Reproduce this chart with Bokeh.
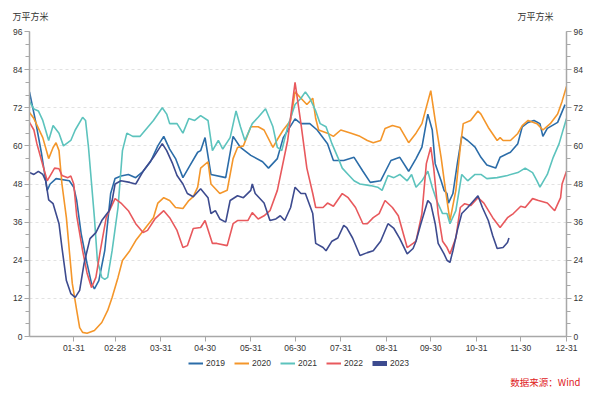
from bokeh.plotting import figure
from bokeh.layouts import column
from bokeh.models import (Range1d, LinearAxis, FixedTicker, SingleIntervalTicker,
                          Legend, LegendItem, Label)
from bokeh.embed import file_html
from bokeh.resources import INLINE

# ---- data (day of year, value in 万平方米) ----
tick_days = [31, 59, 90, 120, 151, 181, 212, 243, 273, 304, 334, 365]
tick_labels = ["01-31", "02-28", "03-31", "04-30", "05-31", "06-30",
               "07-31", "08-31", "09-30", "10-31", "11-30", "12-31"]

years = ["2019", "2020", "2021", "2022", "2023"]

days_2019 = [1,5,9,13,15,19,28,31,33,36,40,43,45,48,52,56,59,63,68,73,78,83,88,92,96,100,105,110,115,117,120,124,134,139,144,151,159,163,169,173,181,185,191,196,203,207,214,221,227,232,239,246,252,258,263,267,271,274,276,280,282,284,285,288,291,294,298,303,307,311,317,320,327,332,335,339,343,347,349,352,359,364]
vals_2019 = [77,68,58,46,48,49.7,49,47,42.8,32.4,23,16.7,15,17.6,27,45,49.7,50.5,51,50,52,55,60,63,59,56,50,54,58,58.5,62.6,51,50,63,59.5,57,55,53,56,62.6,68.5,67,67,65,60.7,55.4,55.4,56.4,52,48.5,49,55.4,56.4,52,56,59.6,70,65,54.4,49,46,45,42,45,54.4,63,61.7,59.6,56.4,54,53,56.4,58,60.7,66,67.4,68,67,63,65.5,67.4,73]

days_2020 = [1,4,10,14,17,19,21,23,26,28,30,33,35,37,40,45,50,54,57,61,64,69,73,81,85,88,92,96,100,105,109,112,115,117,122,124,127,130,135,139,142,146,151,156,160,166,169,173,178,181,185,189,193,195,197,203,207,212,219,225,230,234,239,242,247,252,258,263,267,273,276,280,283,286,290,293,295,300,305,307,312,318,320,322,327,332,335,339,345,349,354,359,362,365]
vals_2020 = [70.5,68.6,62.6,56,59.5,61,58.5,48,37.4,27,16.7,8.2,2.8,1.3,1,1.9,4.4,8.2,12.3,18.6,23.9,27,30.2,35,37.4,42,43.7,42.8,40.6,40.3,42.8,44,47,53,55,48,46.5,45,46,56,59.5,60,66,66,65,59.5,62,65,68,77,75,73,75,68.6,65,64,63,65,64,63,61.7,61,61.7,65.5,66.4,65.8,61,64,67,77.4,68,56.4,46,36.5,46,59.5,67,68,71,70,65.8,61.7,62.6,61.7,61.7,63.9,66.4,68,67,65,67,70,74,78.7]

days_2021 = [1,4,7,10,14,17,21,24,29,32,37,39,41,45,47,50,52,54,57,61,64,67,71,76,81,85,91,94,96,101,105,109,113,117,122,125,129,132,137,141,144,147,152,156,161,166,169,172,176,181,185,188,191,195,198,202,206,210,213,217,221,225,232,237,240,244,248,252,257,260,263,267,271,274,277,281,284,286,290,294,298,303,307,311,318,325,332,337,342,345,347,352,356,360,363,365]
vals_2021 = [74,71.6,71,68,61.7,66.4,64,60,61.7,65,69,68,59.5,37.4,24,18.6,18,18.6,27,40.6,58.5,64,63,63,65.8,68,72,70,67,67,64,68.6,68,69.5,68,58.5,61.7,59,62.6,71,66,61.7,67,69,71.7,66,59.5,58.5,66,73,75,77,75,71,67,66,60.7,56.4,53,51,49,48,47.5,47,46,50.7,50,51,49,51,47,49,52,47,42.8,38.7,38.7,35.5,39.6,51,49,51,51,49.7,50,50.7,51.6,53,51.6,49,47,51,56.4,60.7,65.5,68.6]

days_2022 = [1,4,6,10,13,18,21,23,27,29,31,33,37,40,43,46,49,53,59,63,68,73,78,81,86,92,96,101,105,108,112,117,120,125,128,135,139,142,149,152,156,160,164,169,176,181,185,189,193,195,200,203,207,213,217,222,227,230,234,238,242,247,251,257,261,263,267,270,273,275,278,281,284,286,290,293,296,300,305,309,315,320,325,329,334,337,342,346,352,357,361,362,365]
vals_2022 = [67.4,65,60.7,54,49,53,52.8,50.7,50,50.5,48,38,27,20,15.4,18.6,27,37.4,43.4,42,39.6,35.5,32.7,33.4,37,39.6,37.4,33.4,28,28.6,34,34.3,36.5,29.3,29.3,28.6,35.5,36.5,36.5,39,37,38,39.6,46,61.7,80,67,53,45,40.6,40.6,42,41,45,43.7,40.6,35.5,35.5,37.4,38.7,42.8,40.6,38,28,29.3,30,38.7,54.4,59.6,53,38.7,30,28,26,31,40.6,41.8,41.2,43.7,42,37.4,34.3,37.4,38.7,41,40.6,43.4,42.8,42,39.6,43.7,48,52]

days_2023 = [1,4,7,10,12,14,17,21,23,26,29,32,35,38,42,46,50,55,57,59,63,69,73,78,85,91,94,98,101,105,108,112,117,122,124,127,130,134,137,142,146,151,152,154,160,164,168,171,174,178,181,185,188,193,195,200,202,206,210,214,216,220,225,230,234,239,244,248,252,257,261,263,266,271,273,276,278,282,284,286,288,291,294,298,305,308,312,315,318,322,325,326]
vals_2023 = [51.6,51,52,51,49,43,41.8,35.5,28,17.6,13.5,12.3,14.5,23,30.8,32.7,36.5,39.6,42.8,48,49,48.5,48,52,56.4,60.7,58.5,54.4,50.7,48,45,44,46.5,43.7,38.7,39.6,37,36,42.8,44.3,43.7,46,48,45,42,36.5,37,38,36.5,40.6,47,45,45,38.7,29.3,28,27,30,31,35,34.3,31,25.5,26.4,27,30,35.5,34,30.8,26,27.7,30,35,42.8,41.8,35.5,29.3,26,24,23.3,27,33.4,38.7,40.6,44.3,40.6,36.5,31.7,27.7,28,29.6,31]

colors = ["#2b6ca8", "#f4962a", "#5cc3bd", "#e8595d", "#3d4b8f"]
legend_widths = [2, 2, 2, 2, 5]

series = [(days_2019, vals_2019), (days_2020, vals_2020), (days_2021, vals_2021),
          (days_2022, vals_2022), (days_2023, vals_2023)]

TICK_FONT = "Liberation Sans"
CJK_FONT = "Noto Sans CJK SC"

# ---------------- main chart ----------------
p = figure(width=595, height=356, output_backend="svg", toolbar_location=None,
           x_range=Range1d(1, 365), y_range=Range1d(0, 96),
           min_border_left=29, min_border_right=29, min_border_top=31,
           min_border_bottom=20)
p.outline_line_color = None
p.background_fill_color = "white"
p.border_fill_color = "white"

p.xaxis.ticker = FixedTicker(ticks=tick_days)
p.xaxis.major_label_overrides = {d: l for d, l in zip(tick_days, tick_labels)}
p.yaxis.ticker = SingleIntervalTicker(interval=12, num_minor_ticks=3)

right_axis = LinearAxis(ticker=SingleIntervalTicker(interval=12, num_minor_ticks=3))
p.add_layout(right_axis, "right")

for ax in [p.xaxis[0], p.yaxis[0], right_axis]:
    ax.axis_line_color = "#a8a8a8"
    ax.axis_line_width = 1.5
    ax.major_tick_line_color = "#a8a8a8"
    ax.minor_tick_line_color = "#a8a8a8"
    ax.major_tick_in = 0
    ax.minor_tick_in = 0
    ax.major_tick_out = 5
    ax.minor_tick_out = 4
    ax.major_label_text_font = TICK_FONT
    ax.major_label_text_font_size = "8.5px"
    ax.major_label_text_color = "#333333"
    ax.major_label_standoff = 2
p.xaxis.minor_tick_line_color = None
p.xaxis.major_label_standoff = 3

p.xgrid.grid_line_color = None
p.ygrid.grid_line_color = "#e2e2e2"
p.ygrid.grid_line_dash = "3 3"
p.ygrid.ticker = SingleIntervalTicker(interval=12)

for (d, v), c in zip(series, colors):
    p.line(x=d, y=v, line_color=c, line_width=1.6)

# unit labels above the plot (each gets its own slot in the top panel)
p.add_layout(Label(x=-17, y=15, x_units="screen", y_units="screen", text="万平方米",
                   text_font=CJK_FONT, text_font_size="9px", text_color="#333333",
                   text_baseline="middle", text_align="left"), "above")
p.add_layout(Label(x=524, y=2, x_units="screen", y_units="screen", text="万平方米",
                   text_font=CJK_FONT, text_font_size="9px", text_color="#333333",
                   text_baseline="middle", text_align="right"), "above")

# ---------------- legend + source strip ----------------
q = figure(width=595, height=37, output_backend="svg", toolbar_location=None,
           x_range=Range1d(0, 1), y_range=Range1d(0, 1),
           x_axis_location=None, y_axis_location=None, min_border=0)
q.outline_line_color = None
q.grid.visible = False
q.title.visible = False

items = []
for yr, (d, v), c, w in zip(years, series, colors, legend_widths):
    r = q.line(x=d, y=v, line_color=c, line_width=w, visible=False)
    items.append(LegendItem(label=yr, renderers=[r]))

legend = Legend(items=items, orientation="horizontal", location=(159, 11),
                border_line_color=None, background_fill_alpha=0,
                inactive_fill_alpha=0,
                label_text_font=TICK_FONT, label_text_font_size="8.5px",
                label_text_color="#333333", glyph_width=15, glyph_height=10,
                spacing=8, padding=0, margin=0, label_standoff=3)
q.add_layout(legend, "center")

q.add_layout(Label(x=551, y=12, x_units="screen", y_units="screen", text="数据来源：Wind",
                   text_font=CJK_FONT, text_font_size="9.5px", text_color="#e0191b",
                   text_baseline="middle", text_align="right"), "below")

layout = column(p, q, spacing=0)
open("out.html", "w").write(file_html(layout, INLINE))
